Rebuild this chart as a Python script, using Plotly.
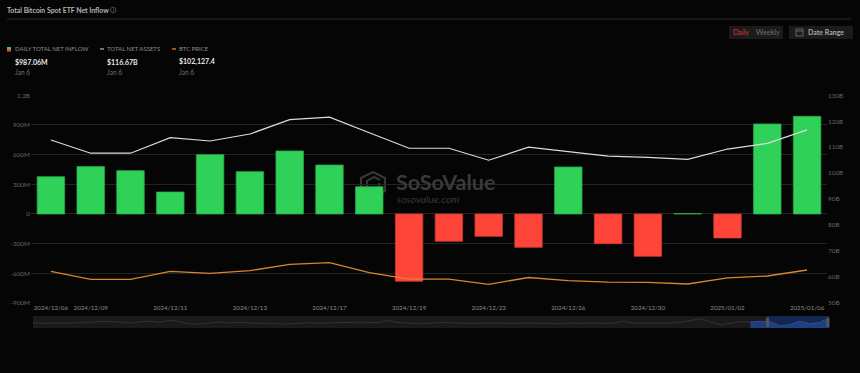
import plotly.graph_objects as go

W, H = 860, 373
FONT = "Lato"

dates = ["2024/12/06","2024/12/09","2024/12/10","2024/12/11","2024/12/12","2024/12/13","2024/12/16",
         "2024/12/17","2024/12/18","2024/12/19","2024/12/20","2024/12/23","2024/12/24","2024/12/26",
         "2024/12/27","2024/12/30","2024/12/31","2025/01/02","2025/01/03","2025/01/06"]
net_inflow = [377,479,438,222,600,428,637,495,276,-680,-276,-226,-337,475,-300,-428,5,-243,910,987.06]
net_assets = [112.8,107.7,107.7,113.7,112.4,115.1,120.6,121.6,115.6,109.6,109.6,105.0,110.0,108.2,
              106.6,106.1,105.3,109.3,111.5,116.67]
btc_price = [101440,97200,97200,101440,100380,101760,105150,106000,100700,97250,97250,94550,98150,96460,
             95660,95560,94710,97990,98950,102127.4]
date_ticks = ["2024/12/06","2024/12/09","2024/12/11","2024/12/13","2024/12/17","2024/12/19",
              "2024/12/23","2024/12/26","2024/12/30","2025/01/02","2025/01/06"]
left_ticks = [-900,-600,-300,0,300,600,900,1200]
left_labels = ["-900M","-600M","-300M","0","300M","600M","900M","1.2B"]
right_ticks = [50,60,70,80,90,100,110,120,130]
right_labels = ["50B","60B","70B","80B","90B","100B","110B","120B","130B"]
nav_values = [5.3,4.7,5,4.7,5,5.7,5.7,6.7,6.7,6,5,6.3,6.7,5.7,8,6,4,4,5.3,6,
              5,5.7,5,4.7,4.7,4.7,4,4.7,5.3,5,5.3,5.7,5.7,5.7,5.7,5.3,7.3,5.7,5,4.3,
              4.7,5,5.7,5,4.7,4.7,5,4.7,4.7,4.7,5,4.7,4.7,4,4.3,5,4.7,5.3,4.7,5,
              6.7,5,5,5.3,5.7,5,6,8,9.3,6,3,5,6.3,6,6.7,6.3,2,3.3,6.7,4.3,5.3,10]
nav_x = list(range(len(nav_values)))
sel_start = 73

BG = "#050505"
GRID = "#232323"
GREEN, RED = "#30D158", "#FF453A"
GREEN_E, RED_E = "#2aa84c", "#c93a32"
ORANGE = "#D9862B"
WHITE = "#dcdcdc"

def px(x): return x / W
def py(y): return 1 - y / H

fig = go.Figure()
fig.add_trace(go.Bar(x=dates, y=net_inflow, width=0.69, yaxis="y", xaxis="x",
    marker=dict(color=[GREEN if v >= 0 else RED for v in net_inflow],
                line=dict(color=[GREEN_E if v >= 0 else RED_E for v in net_inflow], width=0.8)),
    showlegend=False))
fig.add_trace(go.Scatter(x=dates, y=net_assets, mode="lines", yaxis="y2", xaxis="x",
    line=dict(color=WHITE, width=1.2), showlegend=False))
fig.add_trace(go.Scatter(x=dates, y=btc_price, mode="lines", yaxis="y3", xaxis="x",
    line=dict(color=ORANGE, width=1.3), showlegend=False))
fig.add_trace(go.Scatter(x=nav_x, y=nav_values, mode="lines", xaxis="x2", yaxis="y4",
    line=dict(color="#3a3a3a", width=0.8), showlegend=False))
fig.add_trace(go.Scatter(x=nav_x[sel_start:], y=nav_values[sel_start:], mode="lines", xaxis="x2", yaxis="y4",
    fill="tozeroy", fillcolor="rgba(32,68,140,0.85)",
    line=dict(color="#2b5199", width=0.8), showlegend=False))

def rect(x0, y0, x1, y1, fill, layer="below", line=None, lw=0, **kw):
    return dict(type="rect", xref="paper", yref="paper", x0=px(x0), x1=px(x1), y0=py(y1), y1=py(y0),
                fillcolor=fill, layer=layer, line=dict(color=line or fill, width=lw), **kw)

def seg(x0, y0, x1, y1, color, width=1, layer="below"):
    return dict(type="line", xref="paper", yref="paper", x0=px(x0), x1=px(x1), y0=py(y0), y1=py(y1),
                line=dict(color=color, width=width), layer=layer)

def poly(points, color, width=1.6, fill=None):
    path = "M " + " L ".join(f"{px(a):.5f},{py(b):.5f}" for a, b in points)
    return dict(type="path", xref="paper", yref="paper", path=path, layer="below",
                line=dict(color=color, width=width), fillcolor=fill or "rgba(0,0,0,0)")

shapes = [
    seg(7, 19, 851, 19, "#2c2c2c"),
    rect(7, 47, 11, 49, GREEN), rect(7, 49, 11, 51.5, RED),
    rect(100, 48.3, 104, 49.6, "#aaaaaa"),
    rect(172, 48.3, 176, 49.6, ORANGE),
    rect(729, 26, 783, 39, "#1b1b1b"),
    rect(789, 26, 853, 39, "#1b1b1b"),
    rect(796, 29, 803, 36, "rgba(0,0,0,0)", line="#777777", lw=0.8),
    seg(796, 31, 803, 31, "#777777", 0.8),
    dict(type="circle", xref="paper", yref="paper", x0=px(110.5), x1=px(116), y0=py(12.7), y1=py(7.2),
         line=dict(color="#666666", width=0.7), layer="below"),
    rect(33, 316, 829, 328, "#1a1a1a"),
    rect(767, 316, 828, 328, "#14284f"),
    rect(766, 317.5, 769, 327, "#555555", layer="above"),
    rect(826.5, 317.5, 829.5, 327, "#555555", layer="above"),
    # watermark logo
    poly([(373, 172), (385, 178), (385, 191), (373, 197), (361, 191), (361, 178), (373, 172)], "#383838", 2.2),
    poly([(367, 186), (367, 181), (374, 177), (380, 180)], "#383838", 2),
    poly([(379, 183), (379, 188), (372, 192), (366, 189)], "#383838", 2),
]

def note(x, y, text, size=7, color="#888888", weight=None, anchor="left", italic=False):
    t = text
    if weight: t = f"<b>{t}</b>"
    if italic: t = f"<i>{t}</i>"
    return dict(x=px(x), y=py(y), xref="paper", yref="paper", text=t, showarrow=False,
                xanchor=anchor, yanchor="middle", align=anchor,
                font=dict(family=FONT, size=size, color=color), borderpad=0, borderwidth=0)

annotations = [
    note(7, 10, "Total Bitcoin Spot ETF Net Inflow", 6.9, "#b5b5b5", True),
    note(113.2, 10, "i", 5, "#777777", anchor="center"),
    note(15, 48.7, "DAILY TOTAL NET INFLOW", 6.0, "#8c8c8c"),
    note(107, 48.7, "TOTAL NET ASSETS", 6.0, "#8c8c8c"),
    note(178.5, 48.7, "BTC PRICE", 6.0, "#8c8c8c"),
    note(15, 61.5, "$987.06M", 7, "#e6e6e6", True),
    note(107, 61.5, "$116.67B", 7, "#e6e6e6", True),
    note(178.5, 61.5, "$102,127.4", 7, "#e6e6e6", True),
    note(15, 71.5, "Jan 6", 6.6, "#6e6e6e"),
    note(107, 71.5, "Jan 6", 6.6, "#6e6e6e"),
    note(178.5, 71.5, "Jan 6", 6.6, "#6e6e6e"),
    note(732.5, 32.5, "Daily", 7.2, "#d23c2d"),
    note(756, 32.5, "Weekly", 7.2, "#707070"),
    note(808, 32.5, "Date Range", 7, "#a8a8a8", True),
    note(396, 181.5, "SoSoValue", 21.5, "#3a3a3a", True),
    note(397, 198.5, "sosovalue.com", 10.4, "#383838", italic=True),
]

fig.update_layout(
    width=W, height=H, autosize=False, margin=dict(l=0, r=0, t=0, b=0),
    paper_bgcolor=BG, plot_bgcolor=BG, showlegend=False, bargap=0.31,
    font=dict(family=FONT, size=7, color="#666666"),
    shapes=shapes, annotations=annotations,
    xaxis=dict(domain=[px(31), px(827)], type="category", categoryorder="array", categoryarray=dates,
               range=[-0.5, 19.5], tickmode="array", tickvals=date_ticks, ticktext=date_ticks,
               showgrid=False, zeroline=False, showline=False, ticks="", ticklen=0, tickangle=0, automargin=False,
               tickfont=dict(family=FONT, size=6.2, color="#8e8e8e"), anchor="y"),
    yaxis=dict(domain=[py(303), py(95.3)], range=[-900, 1200], tickmode="array", tickvals=left_ticks,
               ticktext=left_labels, showgrid=True, gridcolor=GRID, gridwidth=1, zeroline=True,
               zerolinecolor=GRID, zerolinewidth=1, showline=False, ticks="", automargin=False,
               tickfont=dict(family=FONT, size=6.4, color="#666666"), anchor="x"),
    yaxis2=dict(domain=[py(303), py(95.3)], range=[50, 130], overlaying="y", side="right",
                tickmode="array", tickvals=right_ticks, ticktext=right_labels, showgrid=False,
                zeroline=False, showline=False, ticks="", automargin=False,
                tickfont=dict(family=FONT, size=6.4, color="#666666"), anchor="x"),
    yaxis3=dict(domain=[py(303), py(95.3)], range=[84637, 194718], overlaying="y", visible=False, anchor="x", automargin=False),
    xaxis2=dict(domain=[px(33), px(829)], range=[0, len(nav_values) - 1], visible=False, anchor="y4", automargin=False),
    yaxis4=dict(domain=[py(328), py(316)], range=[0, 12], visible=False, anchor="x2", automargin=False),
)

fig.write_html("out.html", config={"displayModeBar": False},
    post_script="document.body.style.margin='0';document.body.style.background='#050505';document.body.style.overflow='hidden';")
